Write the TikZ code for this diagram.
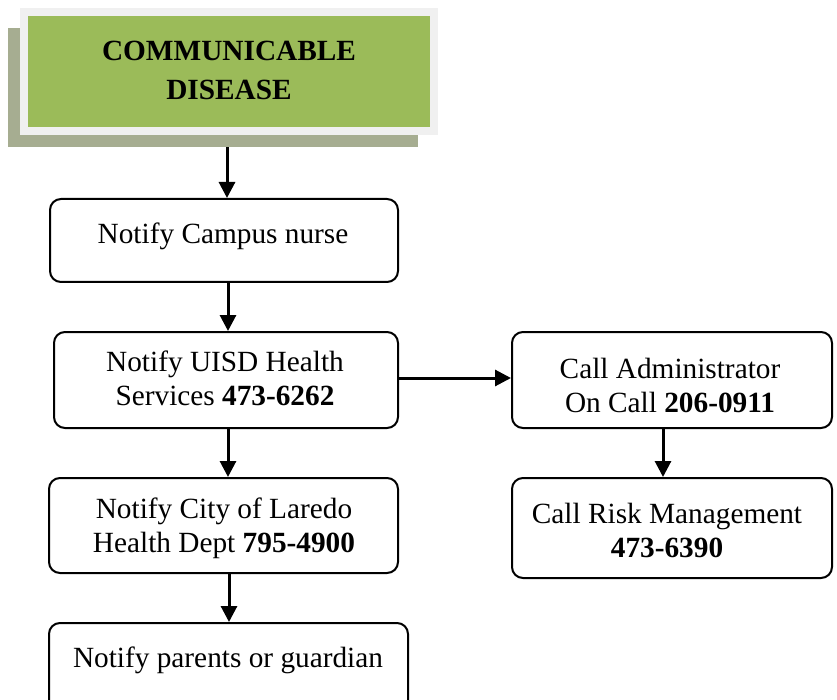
\documentclass[tikz,border=0pt]{standalone}
\usepackage{fontspec}
\setmainfont{Liberation Serif}
\usetikzlibrary{arrows.meta}
\definecolor{titlegreen}{HTML}{9BBB59}
\definecolor{titlerim}{HTML}{F0F0F0}
\definecolor{titleshade}{HTML}{A6AD91}
\begin{document}
\begin{tikzpicture}[x=1pt,y=-1pt,
  stepbox/.style={draw=black, line width=2pt, rounded corners=11pt, inner sep=0pt},
  plain/.style={rectangle, inner sep=0pt, draw=none},
  label/.style={inner sep=0pt, align=center, anchor=base, font=\fontsize{29.3}{33.5}\selectfont},
  heading/.style={inner sep=0pt, align=center, anchor=base, font=\fontsize{29.3}{39}\selectfont\bfseries},
  arr/.style={line width=3pt, -{Triangle[length=16pt,width=16pt]}}]
\useasboundingbox (0,0) rectangle (837,700);
\clip (0,0) rectangle (837,700);

% title block: offset shadow, light rim, green face
\node[plain, fill=titleshade, minimum width=410pt, minimum height=119pt] (tshadow) at (213,87.5) {};
\node[plain, fill=titlerim, minimum width=418pt, minimum height=127pt] (trim) at (229,71.5) {};
\node[plain, fill=titlegreen, minimum width=402pt, minimum height=111pt] (title) at (229,71.5) {};
% base anchor of a multi-line node sits on its last line
\node[heading] (ttext) at (229,100) {COMMUNICABLE\\DISEASE};

% left column
\node[stepbox, minimum width=348pt, minimum height=83pt] (b1) at (224,240.5) {};
\node[label] (t1) at (223,244) {Notify Campus nurse};

\node[stepbox, minimum width=344pt, minimum height=96pt] (b2) at (226,380) {};
\node[label] (t2) at (225,405) {Notify UISD Health\\Services \textbf{473-6262}};

\node[stepbox, minimum width=349pt, minimum height=95pt] (b3) at (223.5,525.5) {};
\node[label] (t3) at (224,552) {Notify City of Laredo\\Health Dept \textbf{795-4900}};

\node[stepbox, minimum width=359pt, minimum height=100pt] (b4) at (228.5,673) {};
\node[label] (t4) at (228,667) {Notify parents or guardian};

% right column
\node[stepbox, minimum width=320pt, minimum height=96pt] (r1) at (672,380) {};
\node[label] (u1) at (670,412) {Call Administrator\\On Call \textbf{206-0911}};

\node[stepbox, minimum width=320pt, minimum height=100pt] (r2) at (672,528) {};
\node[label] (u2) at (667,557) {Call Risk Management\\\textbf{473-6390}};

% connector guides
\coordinate (x0) at (227,0);
\coordinate (x1) at (228,0);
\coordinate (x2) at (229,0);
\coordinate (x3) at (663,0);
\coordinate (y1) at (0,378);

\draw[arr] (tshadow.south -| x0) -- (b1.north -| x0);
\draw[arr] (b1.south -| x1) -- (b2.north -| x1);
\draw[arr] (b2.south -| x1) -- (b3.north -| x1);
\draw[arr] (b3.south -| x2) -- (b4.north -| x2);
\draw[arr] (b2.east |- y1) -- (r1.west |- y1);
\draw[arr] (r1.south -| x3) -- (r2.north -| x3);
\end{tikzpicture}
\end{document}
